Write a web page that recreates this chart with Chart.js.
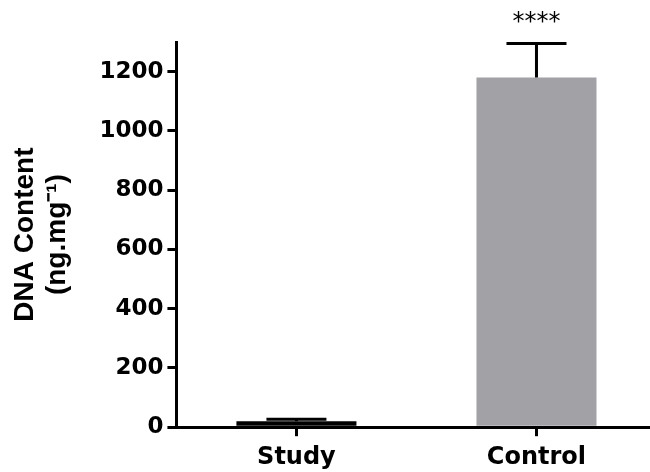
<!DOCTYPE html>
<html>
<head>
    <title>DNA Content</title>
    <script src="https://cdn.jsdelivr.net/npm/chart.js"></script>
    <style>
        body {
            margin: 0;
            background: #fff;
            overflow: hidden;
        }
        .chart-container {
            width: 650px;
            height: 472px;
            overflow: hidden;
        }
    </style>
</head>
<body>

    <div class="chart-container">
        <canvas id="dnaChart" width="662" height="479"></canvas>
    </div>

    <script>
        const groups = ['Study', 'Control'];
        const dnaMeans = [20, 1180];
        const dnaErrors = [7, 115];
        const significance = ['', '****'];
        const yTicks = [0, 200, 400, 600, 800, 1000, 1200];

        // error bars + significance stars, drawn from the y scale
        const errorBars = {
            id: 'errorBars',
            afterDatasetsDraw(chart) {
                const ctx = chart.ctx;
                const y = chart.scales.y;
                const meta = chart.getDatasetMeta(0);
                ctx.save();
                ctx.strokeStyle = '#000';
                ctx.lineWidth = 3;
                meta.data.forEach((bar, i) => {
                    const top = y.getPixelForValue(dnaMeans[i] + dnaErrors[i]);
                    const base = y.getPixelForValue(dnaMeans[i]);
                    ctx.beginPath();
                    ctx.moveTo(bar.x, base);
                    ctx.lineTo(bar.x, top);
                    ctx.moveTo(bar.x - 30, top);
                    ctx.lineTo(bar.x + 30, top);
                    ctx.stroke();
                    if (significance[i]) {
                        ctx.fillStyle = '#000';
                        ctx.font = '24px "DejaVu Sans"';
                        ctx.textAlign = 'center';
                        ctx.textBaseline = 'alphabetic';
                        ctx.fillText(significance[i], bar.x, top - 14);
                    }
                });
                ctx.restore();
            }
        };

        const ctx = document.getElementById('dnaChart').getContext('2d');
        new Chart(ctx, {
            type: 'bar',
            data: {
                labels: groups,
                datasets: [{
                    data: dnaMeans,
                    backgroundColor: ['#000000', '#a2a1a6'],
                    borderWidth: 0,
                    categoryPercentage: 0.5,
                    barPercentage: 1
                }]
            },
            options: {
                responsive: false,
                animation: false,
                layout: {
                    padding: { top: 42, right: 5.5, left: 4, bottom: 0 }
                },
                plugins: {
                    legend: { display: false },
                    tooltip: { enabled: false }
                },
                scales: {
                    y: {
                        min: 0,
                        max: 1300,
                        afterBuildTicks: axis => {
                            axis.ticks = yTicks.map(v => ({ value: v }));
                        },
                        border: { display: true, color: '#000', width: 3 },
                        grid: {
                            drawOnChartArea: false,
                            drawTicks: true,
                            tickLength: 9,
                            color: '#000',
                            lineWidth: 3
                        },
                        ticks: {
                            color: '#000',
                            padding: 4,
                            callback: v => String(v),
                            font: { family: 'DejaVu Sans', weight: 'bold', size: 23 }
                        },
                        title: {
                            display: true,
                            text: ['DNA Content', '(ng.mg\u207B\u00B9)'],
                            color: '#000',
                            padding: { top: 5, bottom: 22 },
                            font: { family: 'Liberation Sans', weight: 'bold', size: 28, lineHeight: 1.15 }
                        }
                    },
                    x: {
                        offset: true,
                        border: { display: true, color: '#000', width: 3 },
                        grid: {
                            offset: false,
                            drawOnChartArea: false,
                            drawTicks: true,
                            tickLength: 9,
                            color: '#000',
                            lineWidth: 3
                        },
                        ticks: {
                            color: '#000',
                            padding: 7,
                            font: { family: 'DejaVu Sans', weight: 'bold', size: 24 }
                        }
                    }
                }
            },
            plugins: [errorBars]
        });
    </script>
</body>
</html>
